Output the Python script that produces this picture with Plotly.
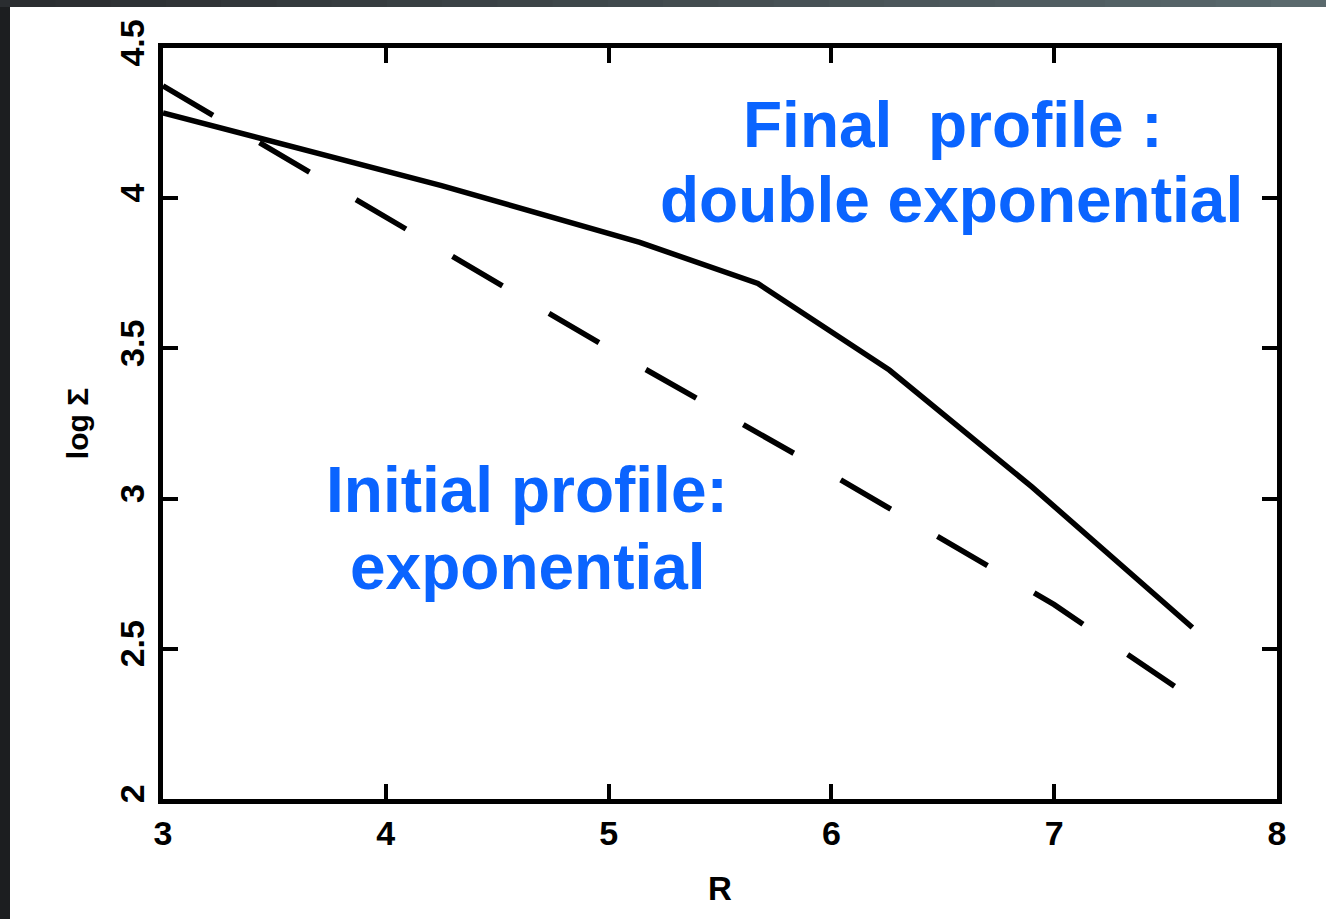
import plotly.graph_objects as go

# Surface density profiles: log Sigma versus radius R
r_final = [3.0, 3.5, 4.25, 5.14, 5.67, 6.26, 6.90, 7.62]
logsig_final = [4.284, 4.188, 4.042, 3.853, 3.716, 3.428, 3.039, 2.571]

r_initial = [3.0, 4.0, 5.0, 6.0, 7.0, 7.54]
logsig_initial = [4.374, 3.939, 3.50, 3.08, 2.647, 2.375]

x_ticks = [3, 4, 5, 6, 7, 8]
x_tick_labels = ["3", "4", "5", "6", "7", "8"]
y_ticks = [2, 2.5, 3, 3.5, 4, 4.5]
y_tick_labels = ["2", "2.5", "3", "3.5", "4", "4.5"]

final_text = ["Final\u00a0 profile :", "double exponential"]
initial_text = ["Initial profile:", "exponential"]

W, H = 1326, 919
ML, MR, MT, MB = 163, 49, 48, 120
BLUE = "#0a64ff"

fig = go.Figure()

fig.add_trace(go.Scatter(
    x=r_initial, y=logsig_initial, mode="lines",
    line=dict(color="black", width=5.5, dash="58px,54px"),
    hoverinfo="skip", showlegend=False,
))
fig.add_trace(go.Scatter(
    x=r_final, y=logsig_final, mode="lines",
    line=dict(color="black", width=5.5),
    hoverinfo="skip", showlegend=False,
))

label_font = dict(family="Liberation Sans", size=64, color=BLUE, weight="bold")
annotations = []
for txt, (ax_x, ax_y) in zip(final_text, [(6.546, 4.244), (6.541, 3.994)]):
    annotations.append(dict(x=ax_x, y=ax_y, xref="x", yref="y", text=txt,
                            showarrow=False, font=label_font,
                            xanchor="center", yanchor="middle"))
for txt, (ax_x, ax_y) in zip(initial_text, [(4.634, 3.029), (4.638, 2.772)]):
    annotations.append(dict(x=ax_x, y=ax_y, xref="x", yref="y", text=txt,
                            showarrow=False, font=label_font,
                            xanchor="center", yanchor="middle"))

# dark frame strips around the white page
pw = W - ML - MR
ph = H - MT - MB


def px_to_paper_x(px):
    return (px - ML) / pw


def px_to_paper_y(py):
    return (H - MB - py) / ph


shapes = []
# left strip
shapes.append(dict(type="rect", xref="paper", yref="paper",
                   x0=px_to_paper_x(0), x1=px_to_paper_x(10),
                   y0=px_to_paper_y(H), y1=px_to_paper_y(0),
                   fillcolor="#1c1e20", line=dict(width=0), layer="above"))
# top strip, shading from dark to slate grey
n_seg = 24
c0 = (0x2a, 0x2d, 0x30)
c1 = (0x5a, 0x69, 0x6d)
for i in range(n_seg):
    t = i / (n_seg - 1)
    col = "rgb({},{},{})".format(*[int(a + (b - a) * t) for a, b in zip(c0, c1)])
    x0 = i * W / n_seg
    x1 = (i + 1) * W / n_seg + 1
    shapes.append(dict(type="rect", xref="paper", yref="paper",
                       x0=px_to_paper_x(x0), x1=px_to_paper_x(x1),
                       y0=px_to_paper_y(7), y1=px_to_paper_y(0),
                       fillcolor=col, line=dict(width=0), layer="above"))

tick_font = dict(family="Liberation Sans", size=34, color="black", weight="bold")
axis_common = dict(
    showline=True, linecolor="black", linewidth=5, mirror="ticks",
    ticks="inside", ticklen=15, tickwidth=4, tickcolor="black",
    showgrid=False, zeroline=False, tickfont=tick_font,
)

fig.update_layout(
    width=W, height=H,
    margin=dict(l=ML, r=MR, t=MT, b=MB, pad=0),
    paper_bgcolor="white", plot_bgcolor="white",
    xaxis=dict(range=[3, 8], tickmode="array", tickvals=x_ticks,
               ticktext=x_tick_labels,
               title=dict(text="R", font=dict(family="Liberation Sans", size=33,
                                             color="black", weight="bold"),
                          standoff=28),
               **axis_common),
    yaxis=dict(range=[2, 4.5], tickmode="array", tickvals=y_ticks,
               ticktext=y_tick_labels, tickangle=-90,
               title=dict(text="log Σ", font=dict(family="Liberation Sans", size=30,
                                                 color="black", weight="bold"),
                          standoff=17),
               **axis_common),
    annotations=annotations,
    shapes=shapes,
)

fig.write_html("out.html")
